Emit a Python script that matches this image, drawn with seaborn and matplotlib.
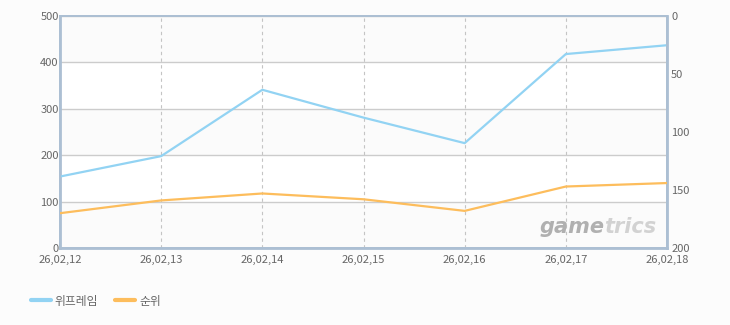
import matplotlib
matplotlib.use("Agg")
import matplotlib.pyplot as plt
import seaborn as sns
import pandas as pd

dates = ["26,02,12", "26,02,13", "26,02,14", "26,02,15", "26,02,16", "26,02,17", "26,02,18"]
warframe = [154, 198, 341, 281, 226, 418, 437]
rank = [170, 159, 153, 158, 168, 147, 144]
left_ticks = [0, 100, 200, 300, 400, 500]
right_ticks = [0, 50, 100, 150, 200]
series_names = ["위프레임", "순위"]

sns.set_style("white")
plt.rcParams['font.family'] = ['Noto Sans CJK KR', 'DejaVu Sans']

df = pd.DataFrame({"idx": range(len(dates)), "warframe": warframe, "rank": rank})

blue = "#92d3f3"
orange = "#fdbd5c"
spine_c = "#acbfd3"
text_c = "#666666"

fig = plt.figure(figsize=(7.3, 3.25), dpi=100, facecolor="#fcfcfc")
ax = fig.add_axes([60/730, 1-248/325, 607/730, 232/325])
ax.set_facecolor("#fbfbfb")

# alternating bands
for lo, hi in zip(left_ticks[1::2], left_ticks[2::2]):
    ax.axhspan(lo, hi, color="white", zorder=0)

sns.lineplot(data=df, x="idx", y="warframe", ax=ax, color=blue, linewidth=1.6, label=series_names[0], legend=False, zorder=5)
ax.set_ylim(left_ticks[0], left_ticks[-1])
ax.set_xlim(0, len(dates)-1)
ax.set_yticks(left_ticks)
ax.set_xticks(range(len(dates)))
ax.set_xticklabels(dates)
ax.set_xlabel("")
ax.set_ylabel("")
ax.grid(axis="y", color="#cccccc", linewidth=1, linestyle="-", zorder=1)
ax.grid(axis="x", color="#c4c4c4", linewidth=0.8, linestyle=(0, (3, 3)), zorder=1)
ax.tick_params(axis="both", length=0, labelsize=8, labelcolor=text_c)
ax.tick_params(axis="y", pad=1)
ax.tick_params(axis="x", pad=5)

ax2 = ax.twinx()
sns.lineplot(data=df, x="idx", y="rank", ax=ax2, color=orange, linewidth=1.6, label=series_names[1], legend=False, zorder=5)
ax2.set_ylim(right_ticks[-1], right_ticks[0])
ax2.set_yticks(right_ticks)
ax2.set_ylabel("")
ax2.tick_params(axis="y", length=0, labelsize=8, labelcolor=text_c, pad=3)

for a in (ax, ax2):
    for s in a.spines.values():
        s.set_color(spine_c)
        s.set_linewidth(1.3)
ax.spines["left"].set_linewidth(2)
ax.spines["bottom"].set_linewidth(2)
ax2.spines["right"].set_linewidth(2)

# watermark
ax.text(0.897, 0.065, "game", transform=ax.transAxes, ha="right", va="baseline",
        fontsize=15, fontweight="bold", fontstyle="italic", color="#b0b0b0",
        family="DejaVu Sans", zorder=3)
ax.text(0.897, 0.065, "trics", transform=ax.transAxes, ha="left", va="baseline",
        fontsize=15, fontweight="bold", fontstyle="italic", color="#d2d2d2",
        family="DejaVu Sans", zorder=3)

h1, l1 = ax.get_legend_handles_labels()
h2, l2 = ax2.get_legend_handles_labels()
leg = fig.legend(h1 + h2, l1 + l2, loc="center left", bbox_to_anchor=(20/730, 1-301/325),
                 ncol=2, frameon=False, fontsize=8.5, handlelength=1.7, handletextpad=0.35,
                 columnspacing=1.4)
for t in leg.get_texts():
    t.set_color(text_c)
for line in leg.get_lines():
    line.set_linewidth(3)

fig.savefig("out.png", dpi=100, facecolor=fig.get_facecolor())
